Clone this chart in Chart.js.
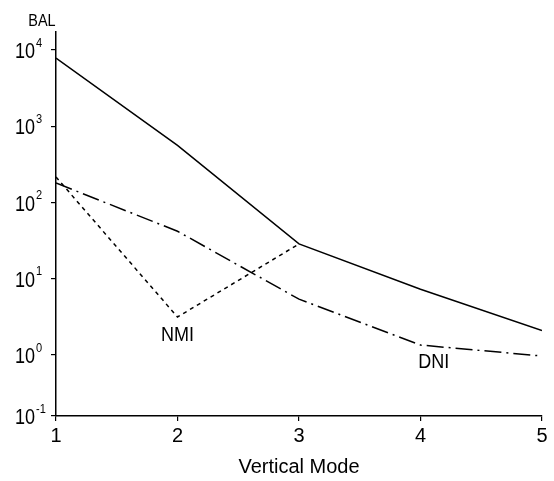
<!DOCTYPE html>
<html>
<head>
<meta charset="utf-8">
<script src="https://cdn.jsdelivr.net/npm/chart.js@4/dist/chart.umd.min.js"></script>
<style>
html,body{margin:0;padding:0;background:#fff;}
#wrap{width:554px;height:481px;}
</style>
</head>
<body>
<div id="wrap"><canvas id="c" width="554" height="481"></canvas></div>
<script>
// Data
const modes = [1, 2, 3, 4, 5];
const solidSeries = [7850, 560, 28.6, 7.3, 2.1];
const nmiModes = [1, 2, 3];
const nmiSeries = [216, 3.15, 28.6];
const dniSeries = [180, 42, 5.4, 1.35, 0.97];
const yTickValues = [1e4, 1e3, 1e2, 1e1, 1e0];
const yTickExponents = ['4', '3', '2', '1', '0'];
const yBottomExponent = '-1';
const xTickLabels = ['1', '2', '3', '4', '5'];
const seriesLabels = ['NMI', 'DNI'];
const labelAnchors = [[2, 1.8], [4.11, 0.79]];

const Y_MIN = Math.pow(10, -0.8);
const Y_MAX = Math.pow(10, 4.236);
const FONT = "'Liberation Sans', Arial, sans-serif";

const toPts = (xs, ys) => xs.map((x, i) => ({x: x, y: ys[i]}));

function narrowText(ctx, text, x, y, size, sx, align) {
  ctx.save();
  ctx.font = size + 'px ' + FONT;
  ctx.textAlign = align;
  ctx.textBaseline = 'middle';
  ctx.translate(x, y);
  ctx.scale(sx, 1);
  ctx.fillText(text, 0, 0);
  ctx.restore();
}

const textPlugin = {
  id: 'texts',
  afterDraw(chart) {
    const ctx = chart.ctx;
    const xs = chart.scales.x, ys = chart.scales.y;
    ctx.save();
    ctx.fillStyle = '#000';
    // y axis title at top
    narrowText(ctx, 'BAL', xs.left - 14, 21, 17, 0.85, 'center');
    // y tick labels: 10 with superscript exponent
    const vals = yTickValues.concat([Y_MIN]);
    const exps = yTickExponents.concat([yBottomExponent]);
    vals.forEach((v, i) => {
      const py = ys.getPixelForValue(v);
      const base = ys.left + ys.width - 21; // right edge of "10"
      narrowText(ctx, '10', base, py + 2, 22, 0.82, 'right');
      narrowText(ctx, exps[i], base + 1, py - 7, 13, 0.85, 'left');
    });
    // series labels
    seriesLabels.forEach((t, i) => {
      narrowText(ctx, t, xs.getPixelForValue(labelAnchors[i][0]), ys.getPixelForValue(labelAnchors[i][1]), 20, 0.9, 'center');
    });
    ctx.restore();
  }
};

new Chart(document.getElementById('c'), {
  type: 'line',
  data: {
    datasets: [
      {label: 'solid', data: toPts(modes, solidSeries), borderColor: '#000', borderWidth: 1.5, pointRadius: 0, fill: false, tension: 0},
      {label: 'NMI', data: toPts(nmiModes, nmiSeries), borderColor: '#000', borderWidth: 1.5, borderDash: [4, 4], pointRadius: 0, fill: false, tension: 0},
      {label: 'DNI', data: toPts(modes, dniSeries), borderColor: '#000', borderWidth: 1.5, borderDash: [17, 5, 2, 5], pointRadius: 0, fill: false, tension: 0}
    ]
  },
  options: {
    responsive: false,
    animation: false,
    events: [],
    layout: {padding: {left: 0, right: 12, top: 32, bottom: 0}},
    plugins: {legend: {display: false}, tooltip: {enabled: false}},
    scales: {
      x: {
        type: 'linear', min: 1, max: 5,
        border: {color: '#000', width: 1.5},
        grid: {drawOnChartArea: false, color: '#000', tickLength: 5, lineWidth: 1.2},
        afterFit: (scale) => { scale.height = 65; },
        ticks: {stepSize: 1, color: '#000', font: {family: FONT, size: 20}, padding: 3,
                callback: (v) => xTickLabels[Math.round(v) - 1]},
        title: {display: true, text: 'Vertical Mode', color: '#000', font: {family: FONT, size: 20}, padding: {top: 4, bottom: 2}}
      },
      y: {
        type: 'logarithmic', min: Y_MIN, max: Y_MAX,
        border: {color: '#000', width: 1.5},
        grid: {drawOnChartArea: false, color: '#000', tickLength: 5, lineWidth: 1.2},
        afterBuildTicks: (scale) => {
          scale.ticks = yTickValues.map(v => ({value: v})).concat([{value: Y_MIN}]);
        },
        afterFit: (scale) => { scale.width = 56; },
        ticks: {color: '#000', autoSkip: false, callback: () => ''}
      }
    }
  },
  plugins: [textPlugin]
});
</script>
</body>
</html>
